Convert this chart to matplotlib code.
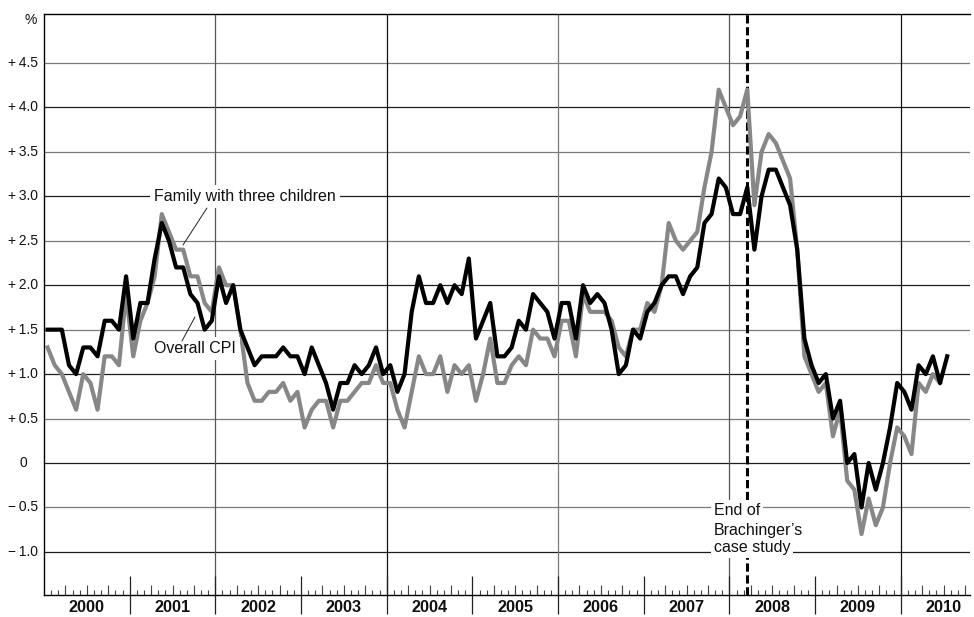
import matplotlib
matplotlib.use("Agg")
import matplotlib.pyplot as plt
import matplotlib.transforms as mtransforms
import numpy as np

# ---------------- data (year-on-year change, %) ----------------
start_year = 2000
overall_cpi = [
    1.5, 1.5, 1.5, 1.1, 1.0, 1.3, 1.3, 1.2, 1.6, 1.6, 1.5, 2.1,   # 2000
    1.4, 1.8, 1.8, 2.3, 2.7, 2.5, 2.2, 2.2, 1.9, 1.8, 1.5, 1.6,   # 2001
    2.1, 1.8, 2.0, 1.5, 1.3, 1.1, 1.2, 1.2, 1.2, 1.3, 1.2, 1.2,   # 2002
    1.0, 1.3, 1.1, 0.9, 0.6, 0.9, 0.9, 1.1, 1.0, 1.1, 1.3, 1.0,   # 2003
    1.1, 0.8, 1.0, 1.7, 2.1, 1.8, 1.8, 2.0, 1.8, 2.0, 1.9, 2.3,   # 2004
    1.4, 1.6, 1.8, 1.2, 1.2, 1.3, 1.6, 1.5, 1.9, 1.8, 1.7, 1.4,   # 2005
    1.8, 1.8, 1.4, 2.0, 1.8, 1.9, 1.8, 1.5, 1.0, 1.1, 1.5, 1.4,   # 2006
    1.7, 1.8, 2.0, 2.1, 2.1, 1.9, 2.1, 2.2, 2.7, 2.8, 3.2, 3.1,   # 2007
    2.8, 2.8, 3.1, 2.4, 3.0, 3.3, 3.3, 3.1, 2.9, 2.4, 1.4, 1.1,   # 2008
    0.9, 1.0, 0.5, 0.7, 0.0, 0.1, -0.5, 0.0, -0.3, 0.0, 0.4, 0.9, # 2009
    0.8, 0.6, 1.1, 1.0, 1.2, 0.9, 1.2,                            # 2010
]
family_three_children = [
    1.3, 1.1, 1.0, 0.8, 0.6, 1.0, 0.9, 0.6, 1.2, 1.2, 1.1, 1.9,   # 2000
    1.2, 1.6, 1.8, 2.1, 2.8, 2.6, 2.4, 2.4, 2.1, 2.1, 1.8, 1.7,   # 2001
    2.2, 2.0, 2.0, 1.5, 0.9, 0.7, 0.7, 0.8, 0.8, 0.9, 0.7, 0.8,   # 2002
    0.4, 0.6, 0.7, 0.7, 0.4, 0.7, 0.7, 0.8, 0.9, 0.9, 1.1, 0.9,   # 2003
    0.9, 0.6, 0.4, 0.8, 1.2, 1.0, 1.0, 1.2, 0.8, 1.1, 1.0, 1.1,   # 2004
    0.7, 1.0, 1.4, 0.9, 0.9, 1.1, 1.2, 1.1, 1.5, 1.4, 1.4, 1.2,   # 2005
    1.6, 1.6, 1.2, 1.9, 1.7, 1.7, 1.7, 1.6, 1.3, 1.2, 1.5, 1.5,   # 2006
    1.8, 1.7, 2.0, 2.7, 2.5, 2.4, 2.5, 2.6, 3.1, 3.5, 4.2, 4.0,   # 2007
    3.8, 3.9, 4.2, 2.9, 3.5, 3.7, 3.6, 3.4, 3.2, 2.4, 1.2, 1.0,   # 2008
    0.8, 0.9, 0.3, 0.6, -0.2, -0.3, -0.8, -0.4, -0.7, -0.5, 0.0, 0.4,  # 2009
    0.3, 0.1, 0.9, 0.8, 1.0, 0.9,                                 # 2010
]
year_labels = [str(y) for y in range(2000, 2011)]
ytick_values = [-1.0, -0.5, 0.0, 0.5, 1.0, 1.5, 2.0, 2.5, 3.0, 3.5, 4.0, 4.5]
ytick_labels = ["\u2212\u20091.0", "\u2212\u20090.5", "0", "+\u20090.5", "+\u20091.0",
                "+\u20091.5", "+\u20092.0", "+\u20092.5", "+\u20093.0", "+\u20093.5",
                "+\u20094.0", "+\u20094.5"]
case_study_end_index = 98          # March 2008 (months since Jan 2000)
label_family = "Family with three children"
label_cpi = "Overall CPI"
label_end = ["End of", "Brachinger\u2019s", "case study"]

FONT = ["Liberation Sans", "DejaVu Sans"]
plt.rcParams["font.family"] = FONT


def month_positions(n):
    return start_year + (np.arange(n) + 0.5) / 12.0


fig = plt.figure(figsize=(9.74, 6.17), dpi=100)
ax = fig.add_axes([44 / 974, 1 - 595 / 617, (970 - 44) / 974, (595 - 14) / 617])
ax.set_xlim(2000, 2010.808)
ax.set_ylim(-1.485, 5.051)

# grid
for v in ytick_values:
    ax.axhline(v, color="#1e1e1e" if float(v).is_integer() else "#7a7a7a",
               lw=0.9, zorder=1)
vline_colors = {2002: "#555555", 2004: "#111111", 2006: "#7a7a7a",
                2008: "#555555", 2010: "#111111"}
for yr, c in vline_colors.items():
    ax.axvline(yr, color=c, lw=0.9, zorder=1)

# end of case study
case_x = month_positions(case_study_end_index + 1)[-1]
ax.axvline(case_x, color="black", lw=2.2, dashes=(2.7, 1.2), zorder=2)

# series
ax.plot(month_positions(len(family_three_children)), family_three_children,
        color="#878787", lw=3.0, zorder=3, solid_joinstyle="round")
ax.plot(month_positions(len(overall_cpi)), overall_cpi,
        color="black", lw=3.0, zorder=4, solid_joinstyle="round")

# spines
for s in ["top", "left", "bottom"]:
    ax.spines[s].set_color("black")
    ax.spines[s].set_linewidth(1.0)
ax.spines["right"].set_visible(False)

# y labels (aligned on the integer digit)
ax.set_yticks([])
for v, lab in zip(ytick_values, ytick_labels):
    off = -12.0 if lab == "0" else -4.3
    ax.annotate(lab, xy=(0, v), xycoords=("axes fraction", "data"),
                xytext=(off, 0), textcoords="offset points",
                ha="right", va="center", fontsize=10, color="#111111")
ax.annotate("%", xy=(0, 4.98), xycoords=("axes fraction", "data"),
            xytext=(-5, 0), textcoords="offset points",
            ha="right", va="center", fontsize=10, color="#111111")

# x ticks: years (long, crossing axis), months (short), quarters (medium)
years_num = np.arange(2000, 2011)
ax.set_xticks(years_num[1:])
ax.set_xticklabels([])
months = np.array([2000 + k / 12.0 for k in range(1, 130) if k % 12 != 0])
ax.set_xticks(months, minor=True)
ax.tick_params(axis="x", which="major", direction="inout", length=28,
               width=0.9, color="#222222")
ax.tick_params(axis="x", which="minor", direction="in", length=3.6,
               width=0.8, color="#444444")
sec = ax.secondary_xaxis("bottom")
quarters = np.array([2000 + k / 4.0 for k in range(1, 44) if k % 4 != 0])
sec.set_xticks(quarters)
sec.set_xticklabels([])
sec.tick_params(direction="in", length=7, width=0.8, color="#444444")
sec.spines["bottom"].set_visible(False)

blend = mtransforms.blended_transform_factory(ax.transData, ax.transAxes)
for yr, lab in zip(years_num, year_labels):
    ax.text(yr + 0.5, -0.0215, lab, transform=blend, ha="center", va="center",
            fontsize=11.7, fontweight="bold", color="#111111", clip_on=False)

# annotations
ax.text(2001.284, 3.0, label_family, ha="left", va="center", fontsize=11.5,
        color="#111111", zorder=6,
        bbox=dict(boxstyle="square,pad=0.25", fc="white", ec="none"))
ax.annotate("", xy=(2001.622, 2.452), xytext=(2001.902, 2.868),
            arrowprops=dict(arrowstyle="-", lw=0.7, color="#222222",
                            shrinkA=0, shrinkB=0), zorder=6)
ax.text(2001.284, 1.29, label_cpi, ha="left", va="center", fontsize=11.5,
        color="#111111", zorder=6,
        bbox=dict(boxstyle="square,pad=0.25", fc="white", ec="none"))
ax.annotate("", xy=(2001.762, 1.642), xytext=(2001.610, 1.372),
            arrowprops=dict(arrowstyle="-", lw=0.7, color="#222222",
                            shrinkA=0, shrinkB=0), zorder=6)
for lab, yv in zip(label_end, [-0.529, -0.754, -0.956]):
    ax.text(2007.818, yv, lab, ha="left", va="center", fontsize=11.5,
            color="#111111", zorder=6,
            bbox=dict(boxstyle="square,pad=0.18", fc="white", ec="none"))

fig.savefig("out.png", dpi=100)
